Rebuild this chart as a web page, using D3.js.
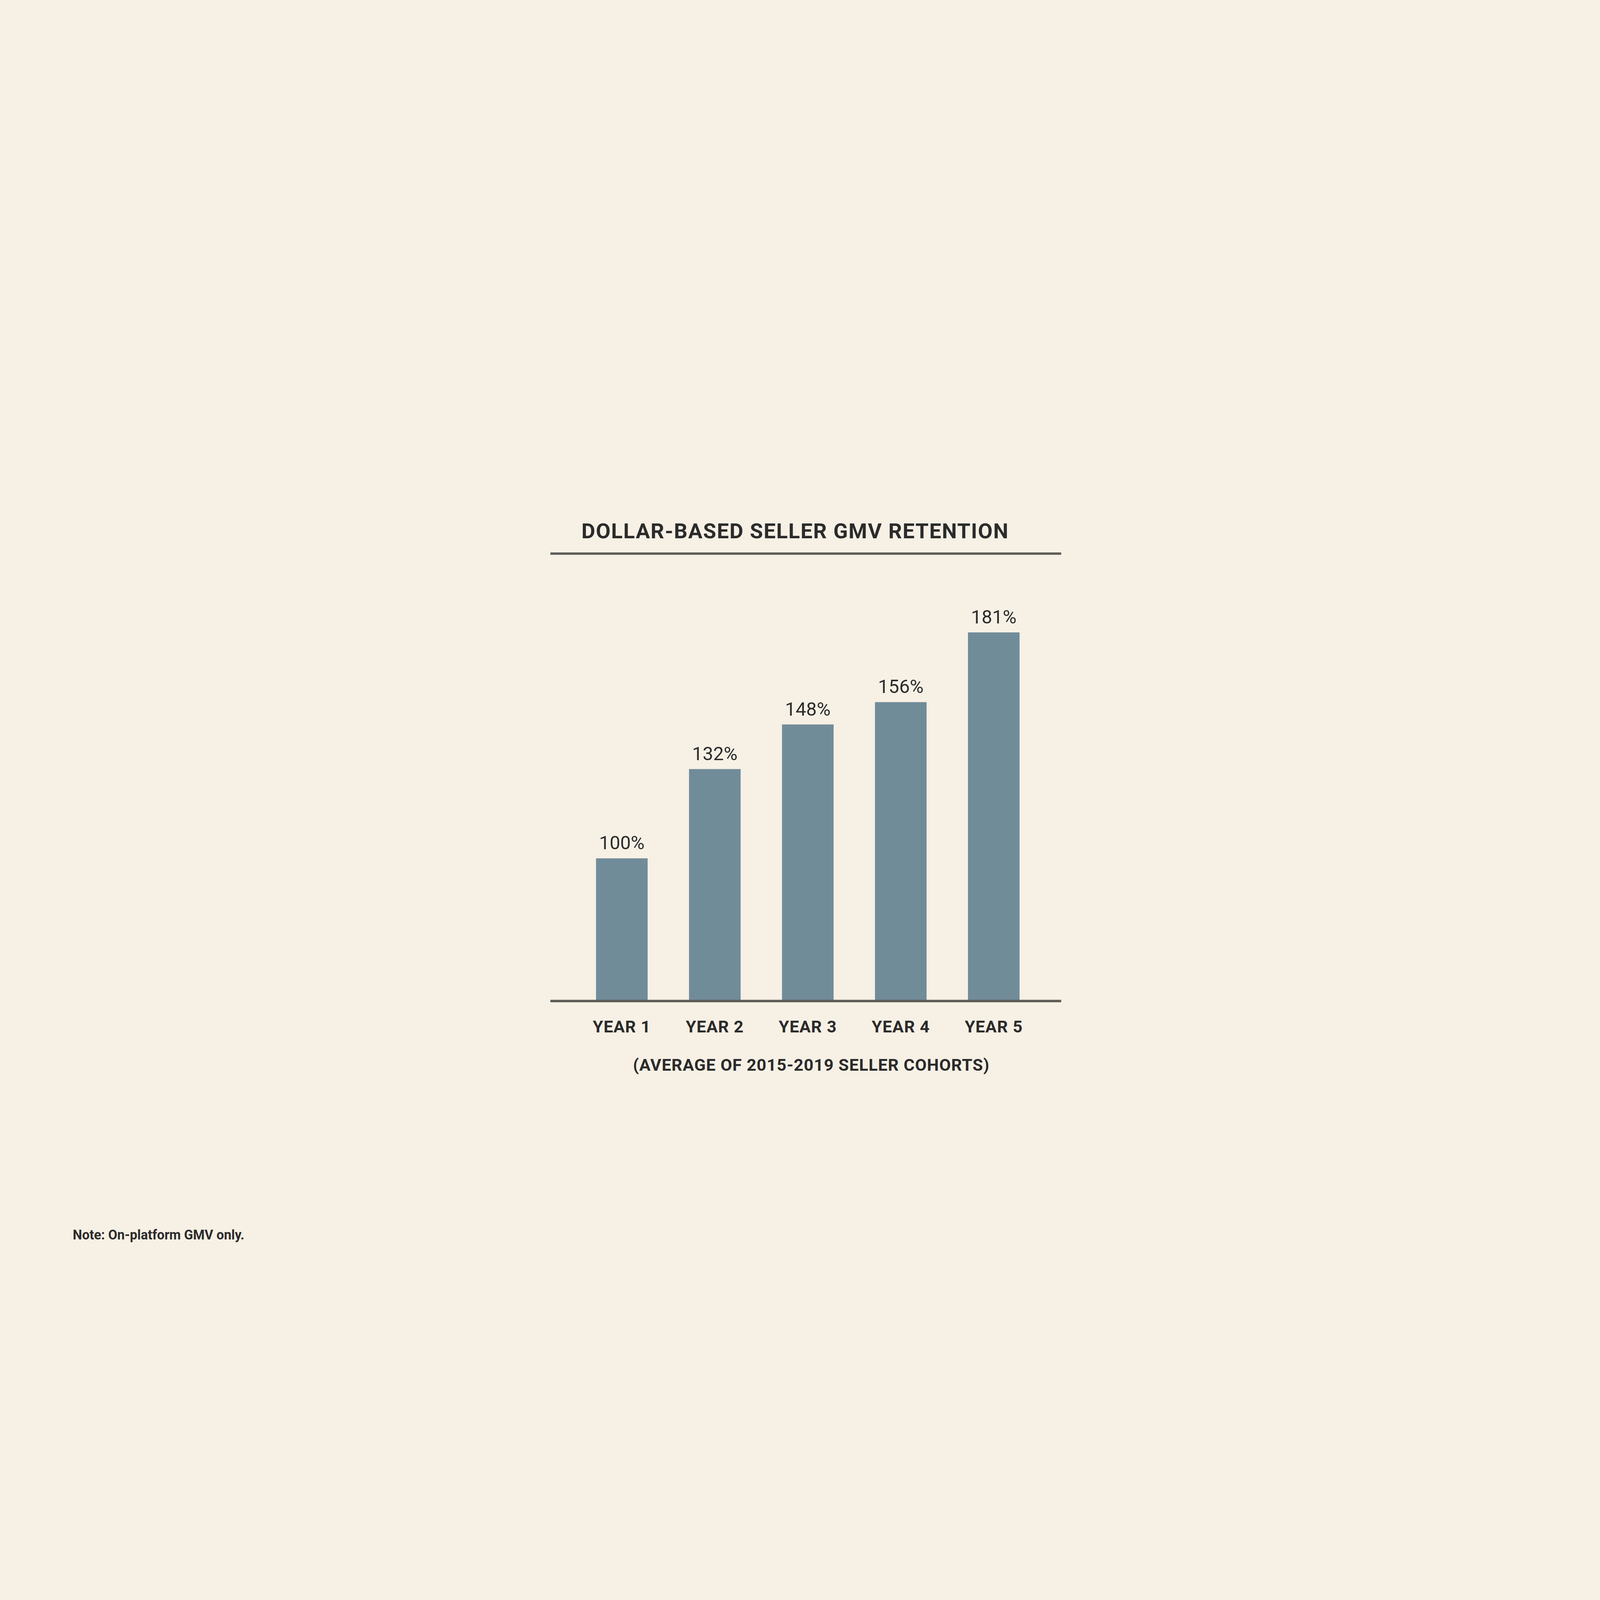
<!DOCTYPE html>
<html>
<head>
<meta charset="utf-8">
<script src="https://cdn.jsdelivr.net/npm/d3@7"></script>
<style>
  html, body { margin: 0; padding: 0; background: #f6f0e5; width: 100%; height: 100%; overflow: hidden; }
  #chart { width: 100vw; height: 100vh; }
  svg { display: block; }
  text { font-family: Roboto, "Liberation Sans", Arial, sans-serif; fill: #2b2b2b; }
</style>
</head>
<body>
<div id="chart"></div>
<script>
var categories = ["YEAR 1", "YEAR 2", "YEAR 3", "YEAR 4", "YEAR 5"];
var retention = [100, 132, 148, 156, 181];
var valueLabels = ["100%", "132%", "148%", "156%", "181%"];

var title = "DOLLAR-BASED SELLER GMV RETENTION";
var subtitle = "(AVERAGE OF 2015-2019 SELLER COHORTS)";
var note = "Note: On-platform GMV only.";

var W = 8000, H = 4500;

// viewBox so the whole slide fits whatever the window size is
var svg = d3.select("#chart")
    .append("svg")
    .attr("viewBox", "0 0 " + W + " " + H)
    .attr("width", "100%")
    .attr("height", "100%");

svg.append("rect")
    .attr("width", W)
    .attr("height", H)
    .attr("fill", "#f6f0e5");

// x: bands for the five years
var x = d3.scaleBand()
    .domain(categories)
    .range([2764, 5314])
    .paddingInner(0.445)
    .paddingOuter(0.465);

// y: axis is cut, baseline sits near 49%
var y = d3.scaleLinear()
    .domain([49, 181])
    .range([3253, 1412]);

// title + rule under it
svg.append("text")
    .attr("x", 2907)
    .attr("y", 942)
    .attr("textLength", 2134)
    .attr("lengthAdjust", "spacing")
    .style("font-size", "106px")
    .style("font-weight", "bold")
    .text(title);

svg.append("line")
    .attr("x1", 2752).attr("x2", 5306)
    .attr("y1", 1018).attr("y2", 1018)
    .attr("stroke", "#5c5b56")
    .attr("stroke-width", 12);

// bars
svg.selectAll(".bar")
    .data(retention)
    .enter()
    .append("rect")
    .attr("class", "bar")
    .attr("x", function(d, i) { return x(categories[i]); })
    .attr("y", function(d) { return y(d); })
    .attr("width", x.bandwidth())
    .attr("height", function(d) { return y(49) - y(d); })
    .attr("fill", "#718c99");

// value labels
svg.selectAll(".val")
    .data(retention)
    .enter()
    .append("text")
    .attr("class", "val")
    .attr("x", function(d, i) { return x(categories[i]) + x.bandwidth() / 2; })
    .attr("y", function(d) { return y(d) - 45; })
    .attr("text-anchor", "middle")
    .style("font-size", "94px")
    .text(function(d, i) { return valueLabels[i]; });

// baseline
svg.append("line")
    .attr("x1", 2752).attr("x2", 5306)
    .attr("y1", 3255).attr("y2", 3255)
    .attr("stroke", "#5c5b56")
    .attr("stroke-width", 12);

// year labels via bottom axis
var xAxis = svg.append("g")
    .attr("transform", "translate(0,3255)")
    .call(d3.axisBottom(x).tickSize(0).tickPadding(158));

xAxis.select(".domain").remove();
xAxis.selectAll("text")
    .style("font-family", "Roboto, 'Liberation Sans', Arial, sans-serif")
    .style("font-size", "84px")
    .style("font-weight", "bold")
    .style("letter-spacing", "2px")
    .attr("fill", "#2b2b2b")
    .attr("dy", "0");

svg.append("text")
    .attr("x", 3165)
    .attr("y", 3603)
    .attr("textLength", 1781)
    .attr("lengthAdjust", "spacing")
    .style("font-size", "84px")
    .style("font-weight", "bold")
    .text(subtitle);

svg.append("text")
    .attr("x", 364)
    .attr("y", 4447)
    .attr("textLength", 858)
    .attr("lengthAdjust", "spacingAndGlyphs")
    .style("font-size", "70px")
    .style("font-weight", "bold")
    .text(note);
</script>
</body>
</html>
